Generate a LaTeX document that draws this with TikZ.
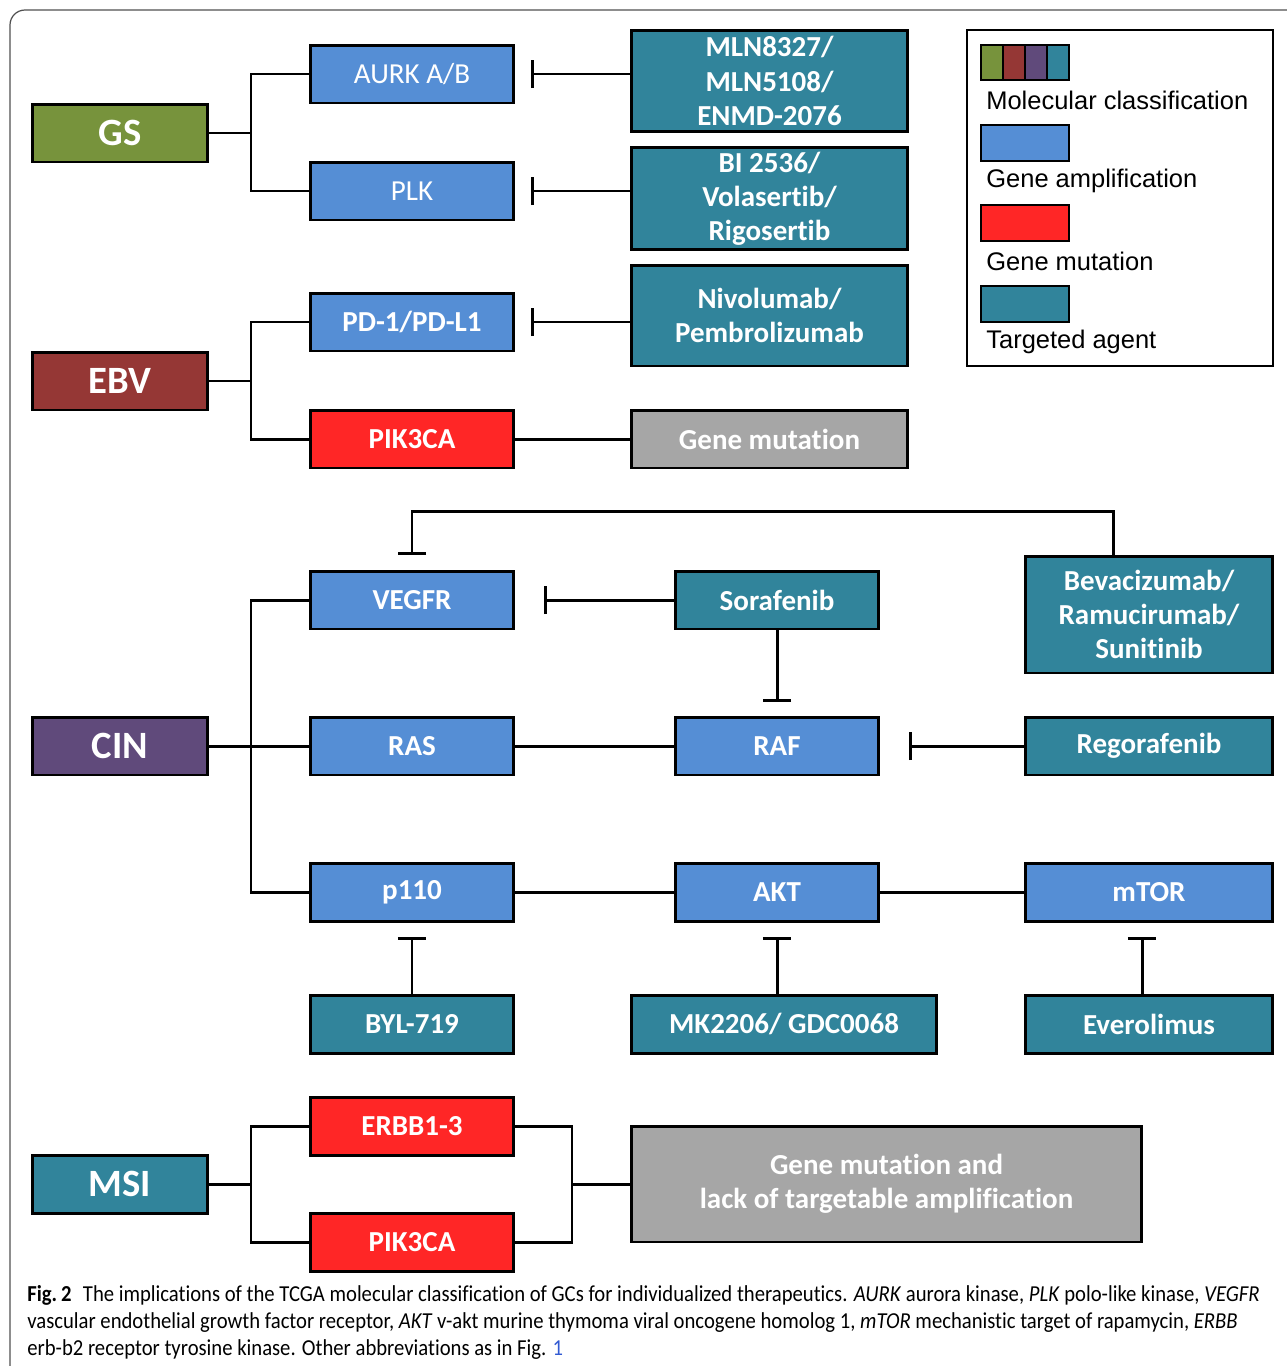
\documentclass[tikz,border=0pt]{standalone}
\usepackage{fontspec}
\setmainfont[Ligatures=NoCommon]{Carlito}
\newfontfamily\legendfont{Liberation Sans}
\newfontfamily\capfont[FakeStretch=0.905, Ligatures=NoCommon]{Carlito}
\usetikzlibrary{arrows.meta, positioning, calc}
\definecolor{gsgreen}{RGB}{119,147,60}
\definecolor{ebvred}{RGB}{149,55,53}
\definecolor{cinpurple}{RGB}{96,74,123}
\definecolor{agentteal}{RGB}{49,132,155}
\definecolor{ampblue}{RGB}{85,142,213}
\definecolor{mutred}{RGB}{255,38,38}
\definecolor{mutgray}{RGB}{166,166,166}
\definecolor{linkblue}{RGB}{50,90,210}
\definecolor{framegray}{RGB}{80,80,80}

\tikzset{
  box/.style={draw=black, line width=1.7pt, text=white, align=center, inner sep=2pt,
    font=\fontsize{16.5}{19.4}\selectfont\bfseries},
  classbox/.style={box, minimum width=3.52cm, minimum height=1.16cm, font=\fontsize{22}{26}\selectfont\bfseries},
  genebox/.style={box, fill=ampblue, minimum width=4.08cm, minimum height=1.16cm},
  mutbox/.style={box, fill=mutred, minimum width=4.08cm, minimum height=1.16cm},
  agent/.style={box, fill=agentteal},
  swatch/.style={draw=black, line width=1.1pt, minimum width=1.76cm, minimum height=0.72cm, inner sep=0pt},
  legendtext/.style={anchor=west, inner sep=0pt, font=\legendfont\fontsize{14.5}{17}\selectfont},
  link/.style={line width=1.7pt},
  inhib/.style={line width=1.7pt, -{Bar[width=16pt]}}
}

\begin{document}
\begin{tikzpicture}[x=0.02cm, y=-0.02cm]
    \useasboundingbox (0,0) rectangle (1287,1366);
    % Outer frame
    \begin{scope}
        \clip (0,0) rectangle (1287,1366);
        \draw[framegray, line width=0.7pt, rounded corners=0.3cm] (10,1420) -- (10,10) -- (1340,10);
    \end{scope}

    % Molecular classes
    \node[classbox, fill=gsgreen] (gs) at (120,133) {GS};
    \node[classbox, fill=ebvred] (ebv) at (120,381) {EBV};
    \node[classbox, fill=cinpurple] (cin) at (120,746) {CIN};
    \node[classbox, fill=agentteal] (msi) at (120,1184) {MSI};

    % GS
    \node[genebox, font=\fontsize{16.5}{19.4}\selectfont] (aurk) at (412,74) {AURK A/B};
    \node[genebox, font=\fontsize{16.5}{19.4}\selectfont] (plk) at (412,191) {PLK};
    \node[agent, minimum width=5.54cm, minimum height=2.04cm] (mln) at (769.5,81) {MLN8327/\\MLN5108/\\ENMD-2076};
    \node[agent, minimum width=5.54cm, minimum height=2.04cm] (bi) at (769.5,198.5) {BI 2536/\\Volasertib/\\Rigosertib};
    \coordinate (gsfork) at (251,133);
    \draw[link] (gs.east) -- (gsfork);
    \draw[link] (aurk.west) -| (gsfork) |- (plk.west);
    \draw[inhib, shorten >=0.32cm] (mln.west |- aurk.east) -- (aurk.east);
    \draw[inhib, shorten >=0.32cm] (bi.west |- plk.east) -- (plk.east);

    % EBV
    \node[genebox] (pd1) at (412,322) {PD-1/PD-L1};
    \node[mutbox] (pik3a) at (412,439) {PIK3CA};
    \node[agent, minimum width=5.54cm, minimum height=2.02cm] (nivo) at (769.5,315.5) {Nivolumab/\\Pembrolizumab};
    \node[box, fill=mutgray, minimum width=5.54cm, minimum height=1.16cm] (mut) at (769.5,439) {Gene mutation};
    \coordinate (ebvfork) at (251,381);
    \draw[link] (ebv.east) -- (ebvfork);
    \draw[link] (pd1.west) -| (ebvfork) |- (pik3a.west);
    \draw[inhib, shorten >=0.32cm] (nivo.west |- pd1.east) -- (pd1.east);
    \draw[link] (pik3a.east) -- (mut.west);

    % Legend
    \node[draw=black, line width=1.4pt, minimum width=6.12cm, minimum height=6.72cm] (legend) at (1120,198) {};
    \foreach \c [count=\i] in {gsgreen, ebvred, cinpurple, agentteal}
        \node[swatch, fill=\c, minimum width=0.44cm, minimum height=0.7cm] (sw\i) at (970+22*\i,62.5) {};
    \node[legendtext] (lmol) at (986,100) {Molecular classification};
    \node[swatch, fill=ampblue] (swamp) at (1025,143) {};
    \node[legendtext] (lamp) at (986,181) {Gene amplification};
    \node[swatch, fill=mutred] (swmut) at (1025,223) {};
    \node[legendtext] (lmut) at (986,261) {Gene mutation};
    \node[swatch, fill=agentteal] (swagt) at (1025,304) {};
    \node[legendtext] (lagt) at (986,342) {Targeted agent};

    % CIN
    \node[genebox] (vegfr) at (412,600) {VEGFR};
    \node[genebox] (ras) at (412,746) {RAS};
    \node[genebox] (p110) at (412,892) {p110};
    \node[agent, minimum width=4.08cm, minimum height=1.16cm] (sora) at (777,600) {Sorafenib};
    \node[genebox] (raf) at (777,746) {RAF};
    \node[genebox] (akt) at (777,892) {AKT};
    \node[agent, minimum width=4.96cm, minimum height=2.34cm] (beva) at (1149,614.5) {Bevacizumab/\\Ramucirumab/\\Sunitinib};
    \node[agent, minimum width=4.96cm, minimum height=1.16cm] (rego) at (1149,746) {Regorafenib};
    \node[genebox, minimum width=4.96cm] (mtor) at (1149,892) {mTOR};
    \node[agent, minimum width=4.08cm, minimum height=1.16cm] (byl) at (412,1024) {BYL-719};
    \node[agent, minimum width=6.12cm, minimum height=1.16cm] (mk) at (784,1024) {MK2206/ GDC0068};
    \node[agent, minimum width=4.96cm, minimum height=1.16cm] (evero) at (1149,1024) {Everolimus};
    \coordinate (cinfork) at (251,746);
    \draw[link] (cin.east) -- (ras.west);
    \draw[link] (vegfr.west) -| (cinfork) |- (p110.west);
    \draw[link] (ras.east) -- (raf.west);
    \draw[link] (p110.east) -- (akt.west);
    \draw[link] (akt.east) -- (mtor.west);
    \draw[inhib, shorten >=0.3cm] ([xshift=-0.72cm]beva.north) -- ++(0,-43) -| (vegfr.north);
    \draw[inhib, shorten >=0.58cm] (sora.west) -- (vegfr.east);
    \draw[inhib, shorten >=0.28cm] (sora.south) -- (raf.north);
    \draw[inhib, shorten >=0.58cm] (rego.west) -- (raf.east);
    \draw[inhib, shorten >=0.3cm] (byl.north) -- (p110.south);
    \draw[inhib, shorten >=0.3cm] (akt.south |- mk.north) -- (akt.south);
    \draw[inhib, shorten >=0.3cm] ([xshift=-0.14cm]evero.north) -- ([xshift=-0.14cm]mtor.south);

    % MSI
    \node[mutbox] (erbb) at (412,1126) {ERBB1-3};
    \node[mutbox] (pik3b) at (412,1242) {PIK3CA};
    \node[box, fill=mutgray, minimum width=10.22cm, minimum height=2.32cm] (lack) at (886.5,1184) {Gene mutation and\\lack of targetable amplification};
    \coordinate (msifork) at (251,1184);
    \coordinate (msijoin) at (572,1184);
    \draw[link] (msi.east) -- (msifork);
    \draw[link] (erbb.west) -| (msifork) |- (pik3b.west);
    \draw[link] (erbb.east) -| (msijoin) |- (pik3b.east);
    \draw[link] (msijoin) -- (lack.west);

    % Caption
    \node[anchor=north west, inner sep=0pt, align=left, font=\capfont\fontsize{13}{15.4}\selectfont] (caption) at (27,1285)
        {\textbf{Fig.\,2}\enspace The implications of the TCGA molecular classification of GCs for individualized therapeutics. \textit{AURK} aurora kinase, \textit{PLK} polo-like kinase, \textit{VEGFR}\\
         vascular endothelial growth factor receptor, \textit{AKT} v-akt murine thymoma viral oncogene homolog 1, \textit{mTOR} mechanistic target of rapamycin, \textit{ERBB}\\
         erb-b2 receptor tyrosine kinase. Other abbreviations as in Fig. \textcolor{linkblue}{1}};
\end{tikzpicture}
\end{document}
